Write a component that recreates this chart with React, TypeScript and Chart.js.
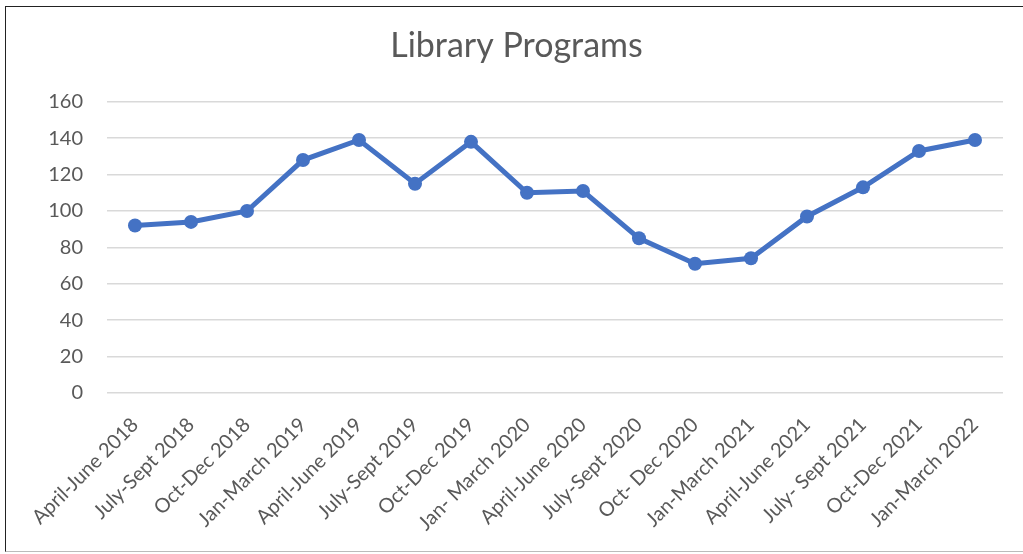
import React, { useEffect, useRef } from "react";
import { Chart, registerables } from "chart.js";

Chart.register(...registerables);

const categories = [
  "April-June 2018",
  "July-Sept 2018",
  "Oct-Dec 2018",
  "Jan-March 2019",
  "April-June 2019",
  "July-Sept 2019",
  "Oct-Dec 2019",
  "Jan- March 2020",
  "April-June 2020",
  "July-Sept 2020",
  "Oct- Dec 2020",
  "Jan-March 2021",
  "April-June 2021",
  "July- Sept 2021",
  "Oct-Dec 2021",
  "Jan-March 2022",
];

const programs = [92, 94, 100, 128, 139, 115, 138, 110, 111, 85, 71, 74, 97, 113, 133, 139];

const yTicks = [0, 20, 40, 60, 80, 100, 120, 140, 160];

const FONT = "Lato, 'Open Sans', sans-serif";

export default function App() {
  const ref = useRef<HTMLCanvasElement>(null);

  useEffect(() => {
    document.body.style.margin = "0";
    if (!ref.current) return;
    const chart = new Chart(ref.current, {
      type: "line",
      data: {
        labels: categories,
        datasets: [
          {
            label: "Library Programs",
            data: programs,
            borderColor: "#4472C4",
            backgroundColor: "#4472C4",
            borderWidth: 5,
            pointRadius: 7,
            pointHoverRadius: 7,
            pointBorderWidth: 0,
            tension: 0,
          },
        ],
      },
      options: {
        animation: false,
        responsive: false,
        layout: { padding: { left: 30, right: 20, top: 0, bottom: 0 } },
        plugins: {
          legend: { display: false },
          tooltip: { enabled: false },
          title: {
            display: true,
            text: "Library Programs",
            color: "#595959",
            font: { family: FONT, size: 34, weight: "normal" },
            padding: { top: 26, bottom: 35 },
          },
        },
        scales: {
          x: {
            offset: true,
            grid: { display: false, drawTicks: false },
            border: { display: false },
            ticks: {
              color: "#595959",
              font: { family: FONT, size: 20 },
              maxRotation: 45,
              minRotation: 45,
              autoSkip: false,
              padding: 20,
            },
            afterFit: (scale: any) => {
              scale.height = 161;
            },
          },
          y: {
            min: 0,
            max: 160,
            afterBuildTicks: (scale: any) => {
              scale.ticks = yTicks.map((v) => ({ value: v }));
            },
            grid: { color: "#D9D9D9", lineWidth: 1.5, drawTicks: false },
            border: { display: false },
            ticks: {
              color: "#595959",
              font: { family: FONT, size: 20 },
              padding: 24,
            },
            afterFit: (scale: any) => {
              scale.width = 77;
            },
          },
        },
      },
    });
    return () => chart.destroy();
  }, []);

  return (
    <div style={{ position: "relative", width: 1023, height: 554 }}>
      <canvas ref={ref} width={1023} height={554} style={{ position: "absolute", left: 0, top: 0 }} />
      <div
        style={{
          position: "absolute",
          left: 5,
          top: 6,
          width: 1018,
          height: 546,
          borderTop: "1.5px solid #222",
          borderLeft: "1.5px solid #222",
          borderBottom: "1.5px solid #BBB",
          boxSizing: "border-box",
          pointerEvents: "none",
        }}
      />
    </div>
  );
}
